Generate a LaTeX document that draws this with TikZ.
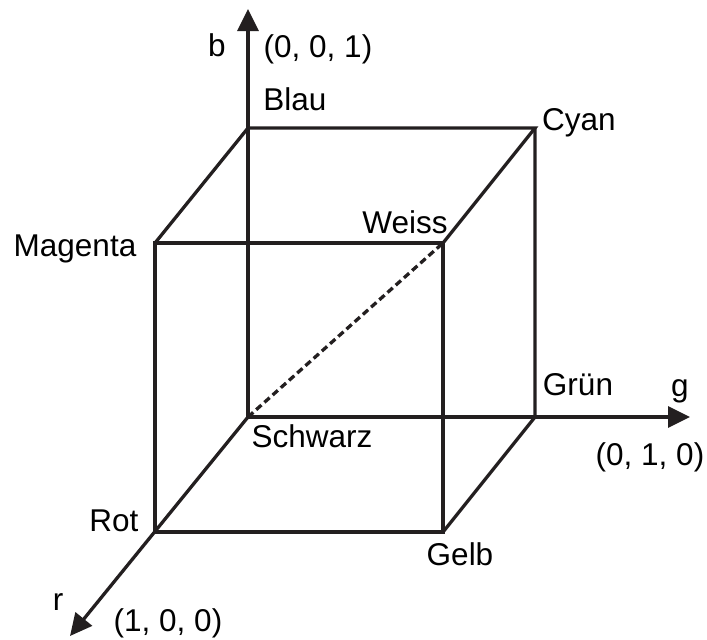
\documentclass[tikz,border=0pt]{standalone}
\usepackage{fontspec}
\setmainfont{Liberation Sans}
\usetikzlibrary{arrows.meta}
\definecolor{ink}{RGB}{35,31,32}

\begin{document}
\begin{tikzpicture}[
  x=0.5pt,y=-0.5pt,
  every node/.style={inner sep=0pt,text=black,font=\fontsize{15.75}{19}\selectfont},
  edge/.style={draw=ink,line width=1.65pt,line join=miter},
  axis/.style={edge,-{Triangle[length=11pt,width=10.5pt]}},
  diag/.style={draw=ink,line width=1.65pt,dash pattern=on 3.5pt off 2pt},
  lbl/.style={anchor=base}
]
  \useasboundingbox (0,0) rectangle (707,639);

  % cube corners
  \coordinate (schwarz) at (248,417);
  \coordinate (blau)    at (248,128);
  \coordinate (cyan)    at (535,128);
  \coordinate (gruen)   at (535,417);
  \coordinate (rot)     at (155,532);
  \coordinate (magenta) at (155,243);
  \coordinate (weiss)   at (443,243);
  \coordinate (gelb)    at (443,532);
  % axis tips
  \coordinate (btip) at (248,9);
  \coordinate (gtip) at (690,417);
  \coordinate (rtip) at (70,636);

  \draw[axis] (schwarz) -- (btip);
  \draw[axis] (schwarz) -- (gtip);
  \draw[axis] (schwarz) -- (rtip);

  \draw[edge] (rot) -- (gelb) -- (weiss) -- (magenta) -- cycle;
  \draw[edge] (magenta) -- (blau) -- (cyan) -- (weiss);
  \draw[edge] (cyan) -- (gruen) -- (gelb);
  \draw[diag] (schwarz) -- (weiss);

  % labels
  \node[lbl] (bname)   at (217,56)  {b};
  \node[lbl] (bvec)    at (318,57)  {(0, 0, 1)};
  \node[lbl] (blaul)   at (295,110) {Blau};
  \node[lbl] (cyanl)   at (579,130) {Cyan};
  \node[lbl] (magl)    at (75,256)  {Magenta};
  \node[lbl] (weissl)  at (405,233) {Weiss};
  \node[lbl] (gruenl)  at (578,395) {Grün};
  \node[lbl] (gname)   at (680,396) {g};
  \node[lbl] (schwl)   at (312,447) {Schwarz};
  \node[lbl] (gvec)    at (650,465) {(0, 1, 0)};
  \node[lbl] (rotl)    at (114,531) {Rot};
  \node[lbl] (gelbl)   at (460,565) {Gelb};
  \node[lbl] (rname)   at (58,610)  {r};
  \node[lbl] (rvec)    at (168,631) {(1, 0, 0)};
\end{tikzpicture}
\end{document}
